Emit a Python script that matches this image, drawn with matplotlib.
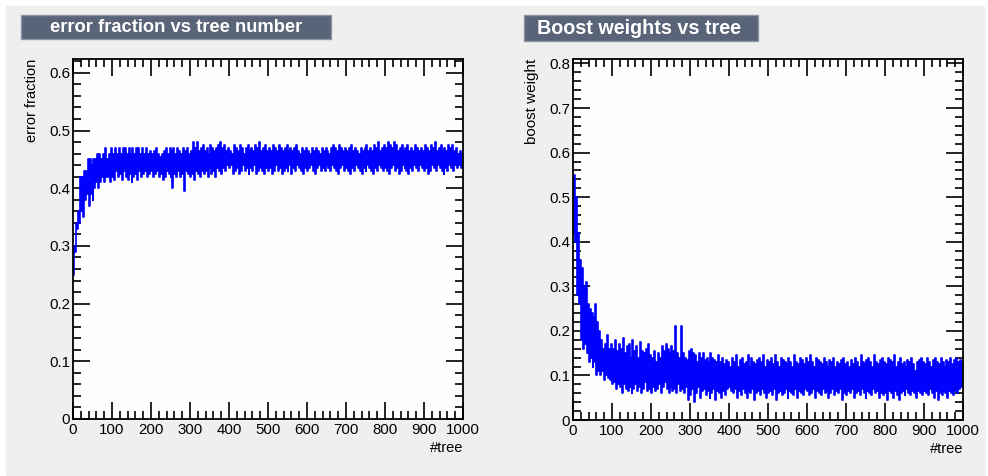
import matplotlib.pyplot as plt
from matplotlib.patches import Rectangle
from matplotlib.ticker import MultipleLocator, FuncFormatter
import numpy as np

# start of each 5-tree chunk, with the low / high edge of the noisy trace
trees = list(range(0, 1000, 5))

err_lo = [
    0.25, 0.29, 0.33, 0.34, 0.36, 0.35, 0.38, 0.39, 0.37, 0.39, 0.38, 0.40, 0.41, 0.40, 0.41, 0.42, 0.41, 0.42, 0.42, 0.41,
    0.42, 0.415, 0.43, 0.42, 0.425, 0.415, 0.43, 0.42, 0.415, 0.425, 0.41, 0.42, 0.425, 0.415, 0.43, 0.42, 0.425, 0.43, 0.42, 0.425,
    0.43, 0.42, 0.425, 0.43, 0.42, 0.425, 0.415, 0.42, 0.43, 0.425, 0.42, 0.40, 0.425, 0.42, 0.43, 0.42, 0.425, 0.395, 0.43, 0.425,
    0.42, 0.425, 0.415, 0.43, 0.425, 0.42, 0.43, 0.425, 0.43, 0.42, 0.435, 0.425, 0.43, 0.42, 0.435, 0.43, 0.425, 0.435, 0.43, 0.44,
    0.435, 0.44, 0.425, 0.43, 0.435, 0.425, 0.43, 0.44, 0.43, 0.435, 0.425, 0.435, 0.43, 0.44, 0.425, 0.43, 0.435, 0.43, 0.425, 0.435,
    0.43, 0.435, 0.425, 0.43, 0.44, 0.43, 0.435, 0.425, 0.43, 0.435, 0.43, 0.44, 0.425, 0.435, 0.43, 0.44, 0.435, 0.43, 0.425, 0.435,
    0.43, 0.435, 0.44, 0.43, 0.425, 0.435, 0.44, 0.43, 0.435, 0.43, 0.44, 0.435, 0.43, 0.44, 0.435, 0.43, 0.425, 0.435, 0.44, 0.43,
    0.435, 0.43, 0.425, 0.435, 0.43, 0.44, 0.435, 0.43, 0.425, 0.435, 0.43, 0.44, 0.435, 0.43, 0.425, 0.435, 0.43, 0.44, 0.435, 0.43,
    0.435, 0.43, 0.425, 0.435, 0.44, 0.43, 0.435, 0.425, 0.43, 0.44, 0.435, 0.43, 0.425, 0.435, 0.43, 0.44, 0.435, 0.43, 0.44, 0.435,
    0.43, 0.435, 0.425, 0.43, 0.44, 0.435, 0.43, 0.44, 0.435, 0.43, 0.425, 0.435, 0.43, 0.44, 0.435, 0.43, 0.44, 0.435, 0.44, 0.435,
]
err_hi = [
    0.30, 0.34, 0.36, 0.42, 0.42, 0.43, 0.43, 0.45, 0.45, 0.44, 0.45, 0.45, 0.46, 0.46, 0.45, 0.46, 0.47, 0.45, 0.46, 0.47,
    0.46, 0.47, 0.46, 0.47, 0.46, 0.47, 0.47, 0.46, 0.47, 0.46, 0.47, 0.46, 0.47, 0.47, 0.46, 0.47, 0.46, 0.47, 0.46, 0.465,
    0.46, 0.465, 0.47, 0.46, 0.455, 0.46, 0.465, 0.47, 0.46, 0.47, 0.465, 0.47, 0.46, 0.47, 0.465, 0.46, 0.47, 0.465, 0.47, 0.46,
    0.465, 0.48, 0.47, 0.48, 0.465, 0.47, 0.475, 0.465, 0.47, 0.46, 0.475, 0.47, 0.465, 0.47, 0.475, 0.48, 0.47, 0.475, 0.465, 0.47,
    0.465, 0.46, 0.475, 0.47, 0.465, 0.475, 0.47, 0.46, 0.47, 0.475, 0.465, 0.47, 0.465, 0.475, 0.47, 0.48, 0.465, 0.47, 0.475, 0.465,
    0.47, 0.465, 0.475, 0.47, 0.465, 0.475, 0.47, 0.465, 0.47, 0.475, 0.465, 0.47, 0.465, 0.47, 0.475, 0.465, 0.46, 0.47, 0.465, 0.47,
    0.465, 0.46, 0.47, 0.465, 0.47, 0.465, 0.46, 0.47, 0.465, 0.47, 0.465, 0.46, 0.47, 0.475, 0.47, 0.465, 0.475, 0.47, 0.465, 0.47,
    0.465, 0.47, 0.475, 0.465, 0.47, 0.465, 0.46, 0.47, 0.465, 0.47, 0.475, 0.465, 0.47, 0.465, 0.475, 0.47, 0.48, 0.465, 0.47, 0.475,
    0.47, 0.48, 0.475, 0.47, 0.48, 0.475, 0.465, 0.47, 0.475, 0.465, 0.47, 0.475, 0.465, 0.47, 0.465, 0.475, 0.47, 0.465, 0.47, 0.465,
    0.475, 0.47, 0.465, 0.475, 0.47, 0.48, 0.465, 0.47, 0.475, 0.465, 0.47, 0.465, 0.475, 0.47, 0.475, 0.465, 0.47, 0.46, 0.465, 0.46,
]

bw_lo = [
    0.42, 0.40, 0.28, 0.26, 0.18, 0.16, 0.17, 0.15, 0.13, 0.14, 0.12, 0.13, 0.10, 0.11, 0.10, 0.11, 0.09, 0.10, 0.095, 0.09,
    0.08, 0.085, 0.07, 0.08, 0.075, 0.06, 0.08, 0.07, 0.065, 0.075, 0.06, 0.07, 0.08, 0.065, 0.075, 0.06, 0.07, 0.085, 0.065, 0.07,
    0.06, 0.075, 0.065, 0.07, 0.08, 0.06, 0.075, 0.085, 0.07, 0.06, 0.075, 0.065, 0.07, 0.06, 0.08, 0.065, 0.07, 0.06, 0.075, 0.045,
    0.055, 0.07, 0.04, 0.06, 0.075, 0.05, 0.065, 0.07, 0.055, 0.065, 0.05, 0.06, 0.07, 0.045, 0.065, 0.06, 0.05, 0.065, 0.055, 0.07,
    0.075, 0.065, 0.06, 0.07, 0.05, 0.065, 0.055, 0.07, 0.06, 0.05, 0.065, 0.06, 0.07, 0.045, 0.06, 0.065, 0.055, 0.07, 0.06, 0.05,
    0.06, 0.065, 0.055, 0.07, 0.045, 0.06, 0.065, 0.055, 0.06, 0.07, 0.05, 0.065, 0.06, 0.055, 0.07, 0.05, 0.065, 0.06, 0.055, 0.07,
    0.065, 0.055, 0.06, 0.07, 0.05, 0.065, 0.06, 0.055, 0.07, 0.06, 0.065, 0.05, 0.06, 0.07, 0.055, 0.065, 0.06, 0.07, 0.045, 0.06,
    0.055, 0.065, 0.06, 0.07, 0.05, 0.06, 0.065, 0.055, 0.07, 0.06, 0.05, 0.065, 0.06, 0.055, 0.07, 0.06, 0.065, 0.05, 0.06, 0.055,
    0.06, 0.045, 0.065, 0.06, 0.05, 0.065, 0.055, 0.045, 0.06, 0.065, 0.055, 0.07, 0.06, 0.055, 0.065, 0.06, 0.05, 0.065, 0.06, 0.055,
    0.065, 0.06, 0.055, 0.07, 0.06, 0.05, 0.065, 0.045, 0.06, 0.055, 0.065, 0.06, 0.05, 0.065, 0.06, 0.055, 0.065, 0.06, 0.07, 0.075,
]
bw_hi = [
    0.55, 0.50, 0.42, 0.36, 0.34, 0.30, 0.31, 0.26, 0.25, 0.24, 0.23, 0.26, 0.22, 0.20, 0.18, 0.16, 0.17, 0.19, 0.16, 0.17,
    0.16, 0.18, 0.155, 0.17, 0.16, 0.185, 0.15, 0.165, 0.17, 0.14, 0.18, 0.155, 0.165, 0.14, 0.175, 0.155, 0.15, 0.16, 0.17, 0.145,
    0.14, 0.155, 0.13, 0.15, 0.14, 0.165, 0.155, 0.17, 0.16, 0.15, 0.165, 0.155, 0.21, 0.15, 0.14, 0.21, 0.15, 0.14, 0.135, 0.155,
    0.16, 0.15, 0.145, 0.13, 0.15, 0.14, 0.15, 0.135, 0.14, 0.13, 0.15, 0.14, 0.135, 0.13, 0.145, 0.13, 0.14, 0.125, 0.135, 0.13,
    0.12, 0.14, 0.13, 0.145, 0.12, 0.135, 0.14, 0.125, 0.13, 0.145, 0.12, 0.14, 0.13, 0.125, 0.135, 0.14, 0.13, 0.145, 0.12, 0.135,
    0.13, 0.14, 0.125, 0.145, 0.13, 0.12, 0.14, 0.135, 0.13, 0.125, 0.14, 0.13, 0.12, 0.145, 0.13, 0.125, 0.14, 0.135, 0.125, 0.14,
    0.13, 0.145, 0.13, 0.12, 0.14, 0.135, 0.13, 0.125, 0.14, 0.13, 0.12, 0.135, 0.13, 0.14, 0.12, 0.13, 0.125, 0.135, 0.14, 0.125,
    0.13, 0.12, 0.135, 0.125, 0.14, 0.13, 0.12, 0.145, 0.13, 0.125, 0.135, 0.14, 0.13, 0.12, 0.145, 0.13, 0.125, 0.135, 0.14, 0.13,
    0.125, 0.14, 0.135, 0.13, 0.145, 0.12, 0.13, 0.14, 0.125, 0.13, 0.12, 0.135, 0.13, 0.14, 0.125, 0.11, 0.13, 0.135, 0.14, 0.13,
    0.125, 0.14, 0.13, 0.12, 0.135, 0.14, 0.13, 0.125, 0.14, 0.13, 0.12, 0.135, 0.13, 0.14, 0.125, 0.135, 0.14, 0.13, 0.135, 0.13,
]

W, H = 988, 476
plt.rcParams['font.family'] = ['Liberation Sans', 'DejaVu Sans']
fig = plt.figure(figsize=(W / 100, H / 100), dpi=100, facecolor='white')

# light gray canvas like the ROOT window
fig.patches.append(Rectangle((6 / W, 1 - 475 / H), 978 / W, 469 / H,
                             transform=fig.transFigure, color='#efefef', zorder=-10))


def px_axes(x0, y0, x1, y1):
    ax = fig.add_axes([x0 / W, 1 - y1 / H, (x1 - x0) / W, (y1 - y0) / H])
    ax.set_zorder(5)
    return ax


def title_box(x0, y0, x1, y1, text, size, xc=None):
    fig.patches.append(Rectangle((x0 / W, 1 - y1 / H), (x1 - x0) / W, (y1 - y0) / H,
                                 transform=fig.transFigure, facecolor='#5a6478',
                                 edgecolor='#8c96a3', lw=1, zorder=1))
    if xc is None:
        xc = (x0 + x1) / 2
    fig.text(xc / W, 1 - (y0 + y1) / 2 / H, text, color='white',
             fontsize=size, fontweight='bold', ha='center', va='center', zorder=2)


def trace(ax, x, lo, hi):
    # each chunk goes low -> high, like the dense histogram line in the original
    xs, ys = [], []
    for xi, a, b in zip(x, lo, hi):
        xs += [xi, xi + 2.5]
        ys += [a, b]
    ax.step(xs, ys, where='post', color='#0000ff', lw=1.2)


def style_axes(ax, ymax, ymajor, yminor, ylabel, lab_size):
    ax.set_facecolor('#fefefc')
    ax.set_xlim(0, 1000)
    ax.set_ylim(0, ymax)
    ax.xaxis.set_major_locator(MultipleLocator(100))
    ax.xaxis.set_minor_locator(MultipleLocator(20))
    ax.yaxis.set_major_locator(MultipleLocator(ymajor))
    ax.yaxis.set_minor_locator(MultipleLocator(yminor))
    ax.xaxis.set_major_formatter(FuncFormatter(lambda v, p: f'{int(round(v))}'))
    ax.yaxis.set_major_formatter(FuncFormatter(lambda v, p: '0' if abs(v) < 1e-9 else f'{v:.1f}'))
    ax.tick_params(which='both', direction='in', top=True, right=True, width=1.2,
                   labelsize=10.8)
    ax.tick_params(axis='y', pad=2)
    ax.tick_params(axis='x', pad=3)
    ax.tick_params(which='major', length=12)
    ax.tick_params(which='minor', length=6)
    for s in ax.spines.values():
        s.set_linewidth(1.3)
    ax.set_ylabel(ylabel, fontsize=lab_size, loc='top')
    ax.yaxis.set_label_coords(-0.087, 1.0)
    ax.set_xlabel('#tree', fontsize=10.5, loc='right')
    ax.xaxis.set_label_coords(1.0, -0.061)


ax1 = px_axes(73, 59, 463, 419)
trace(ax1, trees, err_lo, err_hi)
style_axes(ax1, 0.624, 0.1, 0.02, 'error fraction', 10.5)
title_box(21, 15, 331, 39, 'error fraction vs tree number', 13.2)

ax2 = px_axes(573, 59, 963, 420)
trace(ax2, trees, bw_lo, bw_hi)
style_axes(ax2, 0.81, 0.1, 0.02, 'boost weight', 11)
title_box(524, 15, 758, 41, 'Boost weights vs tree', 14.2, xc=638.5)

fig.savefig('out.png', dpi=100, facecolor=fig.get_facecolor())
